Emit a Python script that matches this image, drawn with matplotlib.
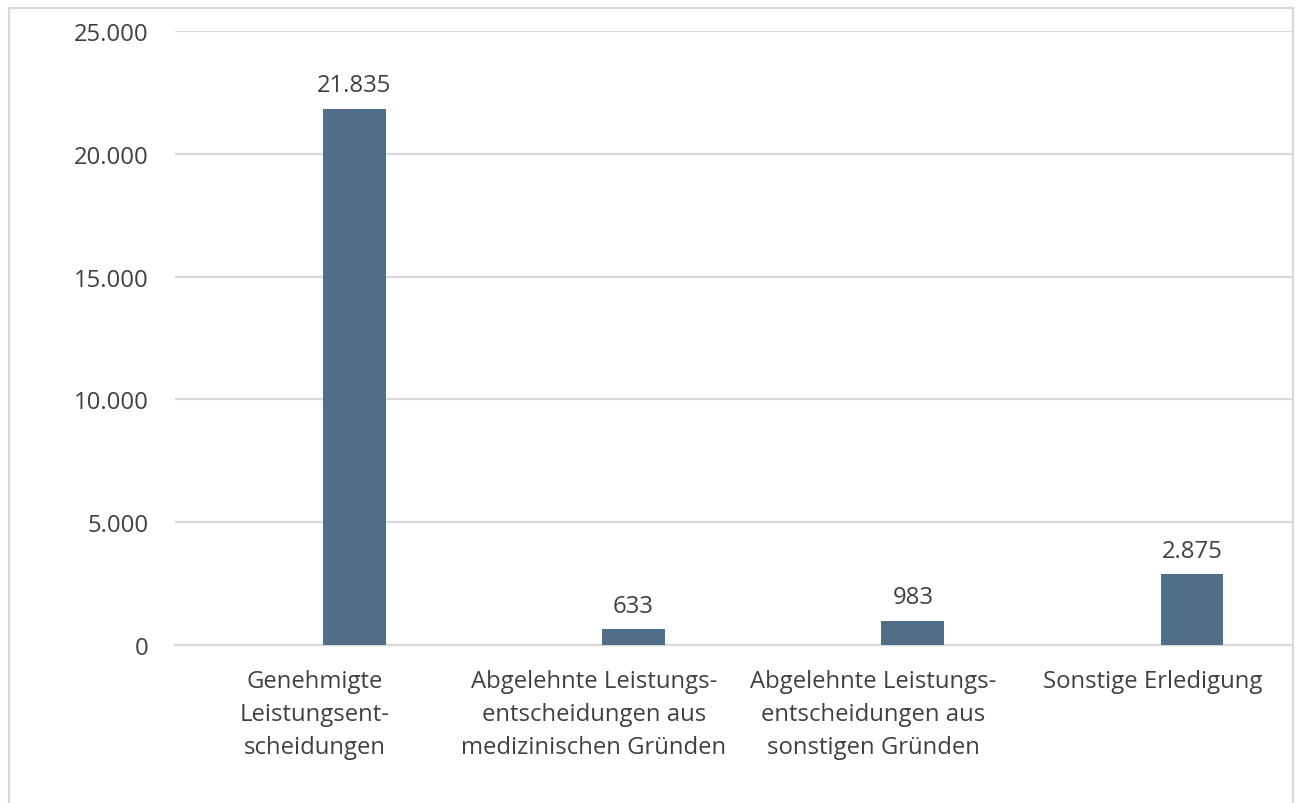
import matplotlib
matplotlib.use("Agg")
import matplotlib.pyplot as plt
from matplotlib.patches import Rectangle
from matplotlib.ticker import FuncFormatter, MultipleLocator

categories = [
    "Genehmigte\nLeistungsent-\nscheidungen",
    "Abgelehnte Leistungs-\nentscheidungen aus\nmedizinischen Gründen",
    "Abgelehnte Leistungs-\nentscheidungen aus\nsonstigen Gründen",
    "Sonstige Erledigung",
]
values = [21835, 633, 983, 2875]

def de(v):
    return f"{int(round(v)):,}".replace(",", ".")

plt.rcParams['font.family'] = ['Open Sans', 'DejaVu Sans']
TXT = "#404040"
GRID = "#D9D9D9"
BAR = "#506E87"
FS = 17.2

W, H = 1298, 804
fig = plt.figure(figsize=(W / 100, H / 100), dpi=100)
fig.patch.set_facecolor("white")
fig.patches.append(Rectangle((9 / W, -0.1), (1293 - 9) / W, 1.1 - 9 / H,
                             transform=fig.transFigure, fill=False,
                             edgecolor=GRID, linewidth=1.6))

ax = fig.add_axes([175 / W, 1 - 646 / H, (1292 - 175) / W, (646 - 32) / H])
x = list(range(len(categories)))
bx = [i + 0.142 for i in x]
ax.bar(bx, values, width=0.225, color=BAR, zorder=3)
for xi, v in zip(bx, values):
    ax.annotate(de(v), (xi, v), xytext=(0, 8.5), textcoords="offset points",
                ha="center", va="bottom", fontsize=FS, color=TXT)

ax.set_xlim(-0.5, 3.5)
ax.set_ylim(0, 25000)
ax.yaxis.set_major_locator(MultipleLocator(5000))
ax.yaxis.set_major_formatter(FuncFormatter(lambda v, p: de(v)))
ax.grid(axis="y", color=GRID, linewidth=1.6, zorder=0)
ax.set_xticks(x)
ax.set_xticklabels(categories, linespacing=1.5)
ax.tick_params(axis="both", length=0, labelsize=FS, labelcolor=TXT)
ax.tick_params(axis="y", pad=19)
ax.tick_params(axis="x", pad=17)
for s in ["top", "right", "left"]:
    ax.spines[s].set_visible(False)
ax.spines["bottom"].set_color(GRID)
ax.spines["bottom"].set_linewidth(1.6)

fig.savefig("out.png", dpi=100)
